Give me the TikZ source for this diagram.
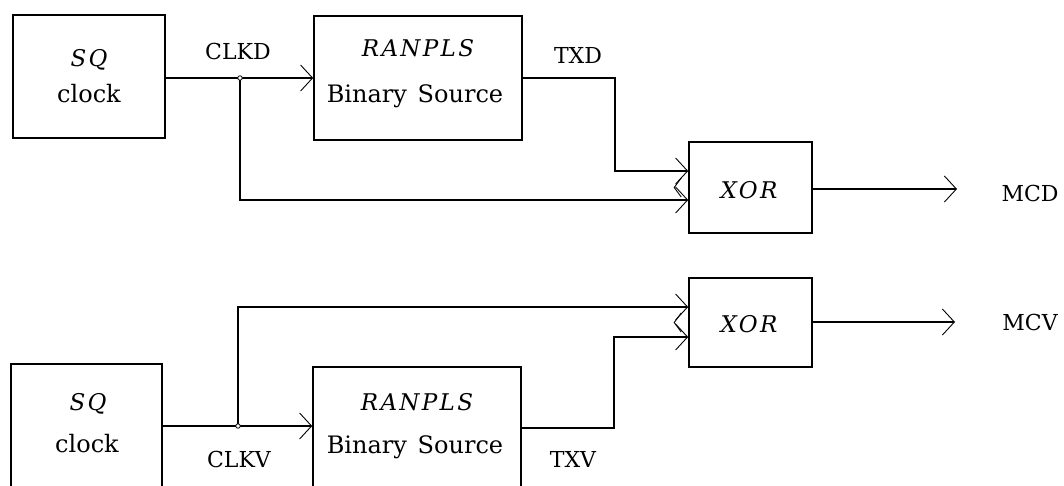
\documentclass[tikz,border=0pt]{standalone}
\usepackage{fontspec}
\setmainfont{Latin Modern Roman}
\newfontfamily\slabfont{DejaVu Serif}
\usetikzlibrary{arrows.meta,calc}
\tikzset{
  blk/.style={draw, line width=1.6pt, inner sep=0pt},
  wire/.style={line width=1.6pt},
  arr/.style={wire, -{Straight Barb[length=12pt,width=26pt,line width=0.9pt]}},
  chev/.style={line width=0.9pt},
  boxtxt/.style={anchor=base, inner sep=0pt, font=\slabfont\fontsize{24}{28}\selectfont},
  ittxt/.style={anchor=base, inner sep=0pt, font=\slabfont\fontsize{23}{28}\selectfont\itshape\addfontfeature{LetterSpace=10}},
  lbl/.style={anchor=base, inner sep=0pt, font=\slabfont\fontsize{22}{26}\selectfont},
  dot/.style={draw, fill=white, circle, inner sep=0pt, minimum size=4.5pt, line width=0.8pt},
}
\begin{document}
\begin{tikzpicture}[x=1pt,y=-1pt]
\clip (0,0) rectangle (1064,485);
\fill[white] (0,0) rectangle (1064,485);
% boxes
\node[blk, minimum width=152pt, minimum height=123pt] (sq1)  at (89,76.5) {};
\node[blk, minimum width=208pt, minimum height=124pt] (ran1) at (418,78) {};
\node[blk, minimum width=123pt, minimum height=91pt]  (xor1) at (750.5,187.5) {};
\node[blk, minimum width=123pt, minimum height=89pt]  (xor2) at (750.5,322.5) {};
\node[blk, minimum width=151pt, minimum height=123pt] (sq2)  at (86.5,425.5) {};
\node[blk, minimum width=208pt, minimum height=123pt] (ran2) at (417,428.5) {};
% box texts
\node[ittxt] (sq1a) at (89,66) {SQ};
\node[boxtxt] (sq1b) at (89,102) {clock};
\node[ittxt] (ran1a) at (418,56) {RANPLS};
\node[boxtxt] (ran1b) at (415,102) {Binary\hspace{0.45em}Source};
\node[ittxt] (xor1a) at (749,198) {XOR};
\node[ittxt] (xor2a) at (749,332) {XOR};
\node[ittxt] (sq2a) at (88,410) {SQ};
\node[boxtxt] (sq2b) at (87,452) {clock};
\node[ittxt] (ran2a) at (417,410) {RANPLS};
\node[boxtxt] (ran2b) at (415,453) {Binary\hspace{0.45em}Source};
% labels
\node[lbl] (clkd) at (238,59) {CLKD};
\node[lbl] (txd) at (578,63) {TXD};
\node[lbl] (mcd) at (1030,201) {MCD};
\node[lbl] (mcv) at (1030,330) {MCV};
\node[lbl] (clkv) at (239,467) {CLKV};
\node[lbl] (txv) at (573,467) {TXV};
% top chain
\coordinate (j1) at (240,78);
\draw[arr] (sq1.east |- j1) -- (ran1.west |- j1);
\draw[arr] (j1) |- ([yshift=-12.5pt]xor1.west);
\draw[arr] (ran1.east) -- ++(92,0) |- ([yshift=16.5pt]xor1.west);
\node[dot] (d1) at (j1) {};
\coordinate (o1) at (957,189);
\draw[arr] (xor1.east |- o1) -- (o1);
\draw[chev] ($(xor1.west)+(-7,-9.5)$) -- ++(-7,9.5) -- ++(7,9.5);
% bottom chain
\coordinate (j2) at (238,426);
\draw[arr] (sq2.east |- j2) -- (ran2.west |- j2);
\draw[arr] (j2) |- ([yshift=15.5pt]xor2.west);
\draw[arr] ([yshift=0.5pt]ran2.east) -- ++(92,0) |- ([yshift=-14.5pt]xor2.west);
\node[dot] (d2) at (j2) {};
\coordinate (o2) at (955,322);
\draw[arr] (xor2.east |- o2) -- (o2);
\draw[chev] ($(xor2.west)+(-7,-9.5)$) -- ++(-7,9.5) -- ++(7,9.5);
\end{tikzpicture}
\end{document}
